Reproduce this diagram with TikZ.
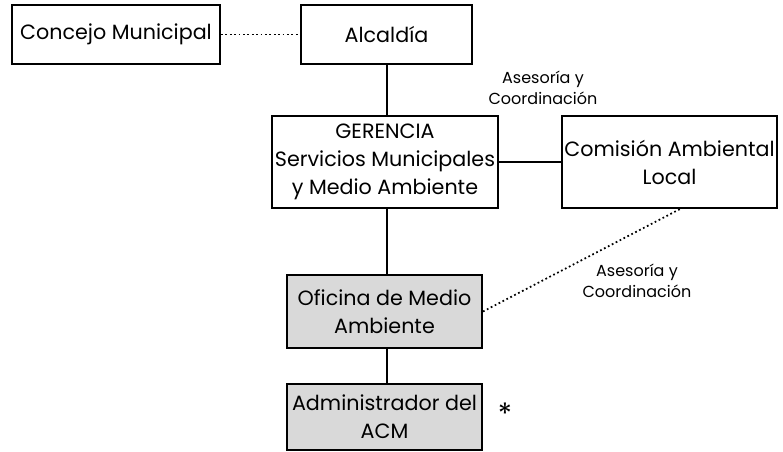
\documentclass[tikz,border=0pt]{standalone}
\usepackage{fontspec}
\setmainfont{Poppins}
\tikzset{
  unitbox/.style={draw,line width=1.5pt,inner sep=0pt,align=center,font=\fontsize{15.5}{21}\selectfont},
  greybox/.style={unitbox,fill=black!15},
  note/.style={inner sep=0pt,align=center,font=\fontsize{12}{16}\selectfont},
  link/.style={line width=1.5pt},
  advice/.style={line width=1.3pt,dotted},
}
\begin{document}
\begin{tikzpicture}[x=0.75pt,y=0.75pt,yscale=-1,xscale=1]
    \useasboundingbox (0,0) rectangle (783,452);
    % boxes
    \node (concejo) [unitbox,minimum width=156pt,minimum height=44.25pt] at (116,34.5) {Concejo Municipal};
    \node (alcaldia) [unitbox,minimum width=128.25pt,minimum height=44.25pt] at (386.5,34.5) {Alcaldía};
    \node (gerencia) [unitbox,minimum width=169.5pt,minimum height=69pt] at (385,162) {GERENCIA\\Servicios Municipales\\y Medio Ambiente};
    \node (comision) [unitbox,minimum width=161.25pt,minimum height=69pt] at (669.5,162) {Comisión Ambiental\\Local};
    \node (oficina) [greybox,minimum width=146.25pt,minimum height=54.75pt] at (384.5,311.5) {Oficina de Medio\\Ambiente};
    \node (admin) [greybox,minimum width=146.25pt,minimum height=49.5pt] at (384.5,417) {Administrador del\\ACM};
    \node (star) [font=\fontsize{22}{22}\selectfont,inner sep=0pt] at (505,414) {*};
    % labels
    \node (note1) [note] at (543,88) {Asesoría y\\Coordinación};
    \node (note2) [note] at (637,281) {Asesoría y\\Coordinación};
    % connectors
    \coordinate (comfoot) at (682,208);
    \draw [advice] (concejo.east) -- (alcaldia.west);
    \draw [link] (alcaldia.south) -- (alcaldia.south |- gerencia.north);
    \draw [link] (gerencia.east) -- (comision.west);
    \draw [link] (gerencia.south -| alcaldia.south) -- (oficina.north -| alcaldia.south);
    \draw [link] (oficina.south -| alcaldia.south) -- (admin.north -| alcaldia.south);
    \draw [advice] (oficina.east) -- (comfoot);
\end{tikzpicture}
\end{document}
